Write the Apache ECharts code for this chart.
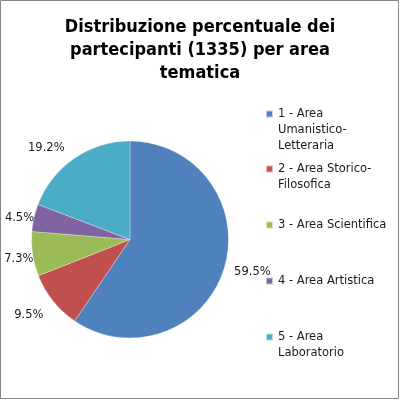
<!DOCTYPE html>
<html>
<head>
<meta charset="utf-8">
<script src="https://cdn.jsdelivr.net/npm/echarts@6/dist/echarts.min.js"></script>
<style>
html,body{margin:0;padding:0;background:#fff;}
#chart{width:400px;height:400px;}
</style>
</head>
<body>
<div id="chart"></div>
<script>
// ---- data ----
var titleText = 'Distribuzione percentuale dei\npartecipanti (1335) per area\ntematica';
var categories = ['1 - Area Umanistico-Letteraria', '2 - Area Storico-Filosofica', '3 - Area Scientifica', '4 - Area Artistica', '5 - Area Laboratorio'];
var legendLabels = ['1 - Area\nUmanistico-\nLetteraria', '2 - Area Storico-\nFilosofica', '3 - Area Scientifica', '4 - Area Artistica', '5 - Area\nLaboratorio'];
var percentages = [59.5, 9.5, 7.3, 4.5, 19.2];
var colors = ['#4F81BD', '#C0504D', '#9BBB59', '#8064A2', '#4BACC6'];

// ---- layout tweaks for label placement (not data) ----
var labelLineLen = [12, 22, 31, -1, 12.6];
var labelGap = [-1.5, -7.5, -31.5, 0.8, 2.4];
var legendIconY = [114, 169, 225, 281, 337];
var legendLineH = 16;

var chart = echarts.init(document.getElementById('chart'), null, {renderer: 'canvas'});

var seriesData = categories.map(function (c, i) {
  return {
    name: c,
    value: percentages[i],
    itemStyle: {color: colors[i]},
    label: {distanceToLabelLine: labelGap[i]},
    labelLine: {length: labelLineLen[i], length2: 0}
  };
});

var legends = categories.map(function (c, i) {
  var lines = legendLabels[i].split('\n').length;
  // prepend blank lines so that the icon (centred on the block) sits on the first line
  var pre = '';
  for (var k = 1; k < lines; k++) pre += ' \n';
  var txt = pre + legendLabels[i];
  return {
    orient: 'vertical',
    left: 265,
    top: legendIconY[i] + legendLineH / 2 - legendLineH * lines,
    padding: 0,
    itemWidth: 7,
    itemHeight: 7,
    icon: 'rect',
    selectedMode: false,
    data: [c],
    formatter: function () { return txt; },
    textStyle: {
      fontFamily: 'DejaVu Sans',
      fontSize: 11.5,
      color: '#1a1a1a',
      lineHeight: legendLineH
    }
  };
});

chart.setOption({
  animation: false,
  backgroundColor: '#ffffff',
  title: {
    text: titleText,
    left: 'center',
    top: 11,
    textStyle: {
      fontFamily: 'DejaVu Sans Condensed, DejaVu Sans',
      fontWeight: 'bold',
      fontSize: 18,
      lineHeight: 23,
      color: '#000'
    }
  },
  legend: legends,
  graphic: [{
    type: 'rect',
    shape: {x: 0.5, y: 0.5, width: 398, height: 398},
    style: {fill: 'none', stroke: '#868686', lineWidth: 1},
    silent: true,
    z: 100
  }],
  series: [{
    type: 'pie',
    center: [130, 239.5],
    radius: 98.5,
    startAngle: 90,
    clockwise: true,
    avoidLabelOverlap: false,
    label: {
      show: true,
      position: 'outside',
      formatter: function (p) { return p.value.toFixed(1) + '%'; },
      fontFamily: 'DejaVu Sans',
      fontSize: 11.5,
      color: '#1a1a1a'
    },
    labelLine: {show: false},
    itemStyle: {borderColor: 'rgba(255,255,255,0.6)', borderWidth: 0.5},
    emphasis: {disabled: true},
    data: seriesData
  }]
});
</script>
</body>
</html>
